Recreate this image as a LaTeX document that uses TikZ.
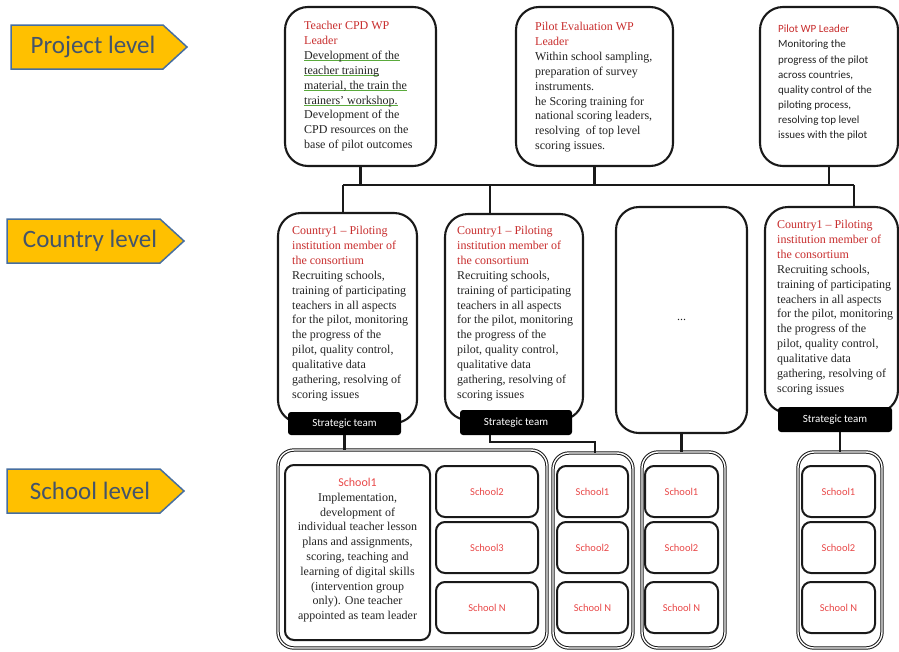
\documentclass[tikz,border=0pt]{standalone}
\usepackage{fontspec}
\setmainfont{Liberation Serif}
\newfontfamily\calfont{Carlito}
\definecolor{titlered}{RGB}{200,45,45}
\definecolor{schoolred}{RGB}{232,72,72}
\definecolor{bodyink}{RGB}{35,35,35}
\definecolor{tagfill}{RGB}{255,192,0}
\definecolor{tagedge}{RGB}{70,110,160}
\definecolor{tagink}{RGB}{68,84,106}
\definecolor{gline}{RGB}{90,170,60}
\definecolor{edge}{RGB}{25,25,25}
% green underline for the highlighted lines
\newsavebox\ulbox
\newcommand\greenul[1]{\sbox\ulbox{#1}\rlap{\textcolor{gline}{\rule[-0.3ex]{\wd\ulbox}{0.7pt}}}\usebox\ulbox}
\newcommand\redhead[1]{\textcolor{titlered}{#1}}
\tikzset{
  x=1pt, y=-1pt,
  leveltag/.style={draw=tagedge, fill=tagfill, line width=1.5pt, line join=miter},
  leveltext/.style={font=\calfont\fontsize{25}{28}\selectfont, text=tagink, inner sep=0pt},
  bigbox/.style={draw=edge, line width=2.1pt, rounded corners=23pt, fill=white},
  teambox/.style={fill=black, rounded corners=3pt, text=white, inner sep=0pt,
    font=\calfont\fontsize{11}{13}\selectfont},
  groupbox/.style={draw=edge, line width=1pt, double=white, double distance=1.4pt,
    rounded corners=16pt},
  schoolbox/.style={draw=edge, line width=2pt, rounded corners=9pt},
  schoollabel/.style={text=schoolred, font=\calfont\fontsize{10.5}{12}\selectfont},
  boxtext/.style={anchor=north west, align=left, inner sep=0pt, text=bodyink,
    font=\fontsize{12}{14.9}\selectfont},
  conn/.style={draw=edge, line width=2.2pt},
}
\begin{document}
\begin{tikzpicture}
\useasboundingbox (0,0) rectangle (899,651);

% ---------- level tags ----------
\draw[leveltag] (11,25) -- (163,25) -- (187,47) -- (163,69) -- (11,69) -- cycle;
\node[leveltext] (lvlP) at (93,47) {Project level};
\draw[leveltag] (7,219) -- (160,219) -- (184,241) -- (160,263) -- (7,263) -- cycle;
\node[leveltext] (lvlC) at (90,241) {Country level};
\draw[leveltag] (7,469) -- (160,469) -- (184,491) -- (160,513) -- (7,513) -- cycle;
\node[leveltext] (lvlS) at (90,491) {School level};

% ---------- project level ----------
\node[bigbox, minimum width=151pt, minimum height=159pt] (wpA) at (360.5,86.5) {};
\node[boxtext] (wpAtxt) at (304,21) {\redhead{Teacher CPD WP}\\ \redhead{Leader}\\
  \greenul{Development of the}\\ \greenul{teacher training}\\
  \greenul{material, the train the}\\ \greenul{trainers' workshop.}\\
  Development of the\\ CPD resources on the\\ base of pilot outcomes};

\node[bigbox, minimum width=157pt, minimum height=159pt] (wpB) at (594.5,86.5) {};
\node[boxtext] (wpBtxt) at (535,22) {\redhead{Pilot Evaluation WP}\\ \redhead{Leader}\\
  Within school sampling,\\ preparation of survey\\ instruments.\\
  he Scoring training for\\ national scoring leaders,\\ resolving\ \ of top level\\ scoring issues.};

\node[bigbox, minimum width=138pt, minimum height=159pt] (wpC) at (829,86.5) {};
\node[boxtext, font=\calfont\fontsize{11}{15.1}\selectfont] (wpCtxt) at (778,25)
  {\redhead{Pilot WP Leader}\\ Monitoring the\\ progress of the pilot\\ across countries,\\
  quality control of the\\ piloting process,\\ resolving top level\\ issues with the pilot};

% bus joining project and country level
\coordinate (busL) at (343,185);
\coordinate (busM) at (490,185);
\coordinate (busR) at (854,185);
\draw[conn] (busL) -- (busR);
\draw[conn] (wpA.south) -- (wpA.south |- busL);
\draw[conn] (wpB.south) -- (wpB.south |- busL);
\draw[conn] (wpC.south) -- (wpC.south |- busL);

% ---------- country level ----------
\node[bigbox, minimum width=139pt, minimum height=210pt] (cty1) at (347.5,318) {};
\node[bigbox, minimum width=138pt, minimum height=206pt] (cty2) at (514,317) {};
\node[bigbox, minimum width=131pt, minimum height=226pt] (cty3) at (681.5,320) {};
\node[bigbox, minimum width=133pt, minimum height=206pt] (cty4) at (831.5,310) {};

\draw[conn] (busL) -- (busL |- cty1.north);
\draw[conn] (busM) -- (busM |- cty2.north);
\draw[conn] (busR) -- (busR |- cty4.north);

\node[boxtext] (cty1txt) at (292,226) {\redhead{Country1 -- Piloting}\\ \redhead{institution member of}\\
  \redhead{the consortium}\\ Recruiting schools,\\ training of participating\\
  teachers in all aspects\\ for the pilot, monitoring\\ the progress of the\\
  pilot, quality control,\\ qualitative data\\ gathering, resolving of\\ scoring issues};
\node[boxtext] (cty2txt) at (457,226) {\redhead{Country1 -- Piloting}\\ \redhead{institution member of}\\
  \redhead{the consortium}\\ Recruiting schools,\\ training of participating\\
  teachers in all aspects\\ for the pilot, monitoring\\ the progress of the\\
  pilot, quality control,\\ qualitative data\\ gathering, resolving of\\ scoring issues};
\node[text=bodyink, font=\fontsize{12}{14}\selectfont] (cty3txt) at (cty3.center) {...};
\node[boxtext] (cty4txt) at (777,220) {\redhead{Country1 -- Piloting}\\ \redhead{institution member of}\\
  \redhead{the consortium}\\ Recruiting schools,\\ training of participating\\
  teachers in all aspects\\ for the pilot, monitoring\\ the progress of the\\
  pilot, quality control,\\ qualitative data\\ gathering, resolving of\\ scoring issues};

\node[teambox, minimum width=113pt, minimum height=23pt] (st1) at (344.5,423.5) {Strategic team};
\node[teambox, minimum width=112pt, minimum height=25pt] (st2) at (516,422.5) {Strategic team};
\node[teambox, minimum width=114pt, minimum height=25pt] (st4) at (835,419.5) {Strategic team};

% ---------- school level ----------
\node[groupbox, minimum width=269pt, minimum height=198pt] (grp1) at (412.5,549) {};
\node[groupbox, minimum width=80pt, minimum height=195pt] (grp2) at (593,550.5) {};
\node[groupbox, minimum width=83pt, minimum height=196pt] (grp3) at (683.5,550) {};
\node[groupbox, minimum width=84pt, minimum height=196pt] (grp4) at (840,550) {};

\draw[conn] (st1.south) -- (st1.south |- grp1.north);
\coordinate (j2a) at (490,442);
\coordinate (j2b) at (595,442);
\draw[draw=edge, line width=1.6pt] (j2a |- st2.south) -- (j2a) -- (j2b) -- (j2b |- grp2.north);
\draw[conn] (cty3.south) -- (cty3.south |- grp3.north);
\draw[conn] (grp4.north |- st4.south) -- (grp4.north);

% group 1
\node[schoolbox, minimum width=145pt, minimum height=175pt] (s11) at (357.5,552.5) {};
\node[align=center, inner sep=0pt, anchor=north, text=bodyink,
      font=\fontsize{12}{14.8}\selectfont] (s11txt) at (357.5,478)
  {\textcolor{schoolred}{\calfont School1}\\ Implementation,\\ development of\\
   individual teacher lesson\\ plans and assignments,\\ scoring, teaching and\\
   learning of digital skills\\ (intervention group\\ only). One teacher\\ appointed as team leader};
\node[schoolbox, minimum width=102pt, minimum height=51pt] (s12) at (487,491.5) {};
\node[schoolbox, minimum width=102pt, minimum height=51pt] (s13) at (487,547.5) {};
\node[schoolbox, minimum width=102pt, minimum height=51pt] (s1N) at (487,607.5) {};
\node[schoollabel] at (s12) {School2};
\node[schoollabel] at (s13) {School3};
\node[schoollabel] at (s1N) {School N};

% group 2
\node[schoolbox, minimum width=71pt, minimum height=51pt] (s21) at (592.5,491.5) {};
\node[schoolbox, minimum width=71pt, minimum height=51pt] (s22) at (592.5,547.5) {};
\node[schoolbox, minimum width=71pt, minimum height=51pt] (s2N) at (592.5,607.5) {};
\node[schoollabel] at (s21) {School1};
\node[schoollabel] at (s22) {School2};
\node[schoollabel] at (s2N) {School N};

% group 3
\node[schoolbox, minimum width=73pt, minimum height=51pt] (s31) at (681.5,491.5) {};
\node[schoolbox, minimum width=73pt, minimum height=51pt] (s32) at (681.5,547.5) {};
\node[schoolbox, minimum width=73pt, minimum height=51pt] (s3N) at (681.5,607.5) {};
\node[schoollabel] at (s31) {School1};
\node[schoollabel] at (s32) {School2};
\node[schoollabel] at (s3N) {School N};

% group 4
\node[schoolbox, minimum width=73pt, minimum height=51pt] (s41) at (838.5,491.5) {};
\node[schoolbox, minimum width=73pt, minimum height=51pt] (s42) at (838.5,547.5) {};
\node[schoolbox, minimum width=73pt, minimum height=51pt] (s4N) at (838.5,607.5) {};
\node[schoollabel] at (s41) {School1};
\node[schoollabel] at (s42) {School2};
\node[schoollabel] at (s4N) {School N};
\end{tikzpicture}
\end{document}
